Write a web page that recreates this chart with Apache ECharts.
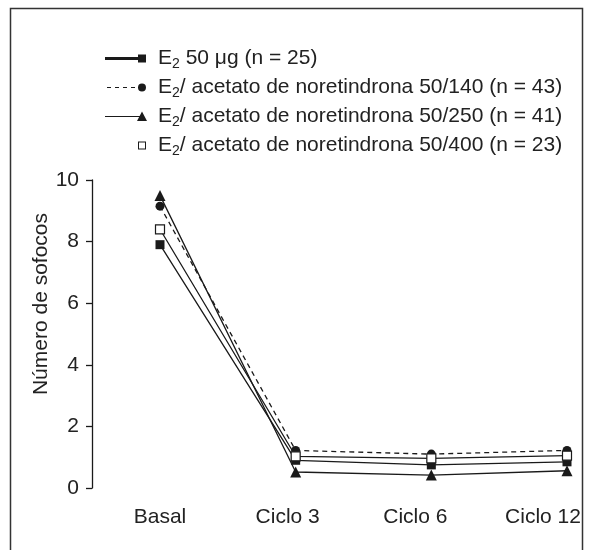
<!DOCTYPE html>
<html>
<head>
<meta charset="utf-8">
<script src="https://cdn.jsdelivr.net/npm/echarts@6/dist/echarts.min.js"></script>
<style>
html, body { margin: 0; padding: 0; background: #fff; }
#chart { width: 590px; height: 550px; }
</style>
</head>
<body>
<div id="chart"></div>
<script>
var categories = ['Basal', 'Ciclo 3', 'Ciclo 6', 'Ciclo 12']
var seriesNames = [
  'E2 50 μg (n = 25)',
  'E2/ acetato de noretindrona 50/140 (n = 43)',
  'E2/ acetato de noretindrona 50/250 (n = 41)',
  'E2/ acetato de noretindrona 50/400 (n = 23)'
]
var e2Only = [7.9, 0.9, 0.75, 0.85]
var nor140 = [9.15, 1.22, 1.1, 1.22]
var nor250 = [9.5, 0.52, 0.42, 0.56]
var nor400 = [8.4, 1.03, 0.96, 1.05]
var yTicks = [0, 2, 4, 6, 8, 10]

var ink = '#1a1a1a'
// legend icons: 53 x 12 box, tiny corner strokes keep the box size
var box = 'M0 0 L0 0.01 M53 12 L53 11.99 '
var icons = [
  box + 'M5 4.5 L40 4.5 L40 7.5 L5 7.5 Z M38 2 L46 2 L46 10 L38 10 Z',
  box + 'M7 5.5 L11 5.5 L11 6.5 L7 6.5 Z M15 5.5 L19 5.5 L19 6.5 L15 6.5 Z M23 5.5 L27 5.5 L27 6.5 L23 6.5 Z M31 5.5 L35 5.5 L35 6.5 L31 6.5 Z ' +
    'M42 2 A4 4 0 1 1 41.99 2 Z',
  box + 'M5 5.5 L40 5.5 L40 6.5 L5 6.5 Z M42 1 L47 10.5 L37 10.5 Z',
  box + 'M38 2 L46 2 L46 10 L38 10 Z M39 3 L39 9 L45 9 L45 3 Z'
]

var chart = echarts.init(document.getElementById('chart'))
chart.setOption({
  animation: false,
  textStyle: { fontFamily: 'Liberation Sans, Arial, sans-serif' },
  graphic: [{
    type: 'rect',
    shape: { x: 10.5, y: 8.5, width: 572, height: 580 },
    style: { fill: 'none', stroke: '#333', lineWidth: 1.5 },
    silent: true
  }],
  legend: {
    orient: 'vertical',
    left: 100,
    top: 46,
    padding: 0,
    itemWidth: 53,
    itemHeight: 12,
    itemGap: 4,
    selectedMode: false,
    itemStyle: { color: ink, borderWidth: 0 },
    data: seriesNames.map(function (n, i) {
      return { name: n, icon: 'path://' + icons[i] }
    }),
    formatter: function (name) {
      return '{t|E}{s|2}{t|' + name.slice(2) + '}'
    },
    textStyle: {
      rich: {
        t: { fontSize: 21, color: '#222', lineHeight: 24 },
        s: { fontSize: 14, color: '#222', lineHeight: 24, padding: [11, 0, 0, 0] }
      }
    }
  },
  grid: [{
    left: 160,
    right: 23,
    top: 180,
    bottom: 62
  },
  {
    // label row only: the printed labels sit a bit left of the points
    left: 160,
    right: 47,
    top: 180,
    bottom: 62
  }],
  xAxis: [{
    type: 'category',
    boundaryGap: false,
    data: categories,
    axisLine: { show: false },
    axisTick: { show: false },
    axisLabel: { show: false }
  },
  {
    type: 'category',
    gridIndex: 1,
    boundaryGap: false,
    data: categories,
    axisLine: { show: false },
    axisTick: { show: false },
    axisLabel: { color: '#222', fontSize: 21, margin: 19 }
  }],
  yAxis: [{
    type: 'value',
    min: 0,
    max: 10,
    interval: 2,
    offset: 68,
    name: 'Número de sofocos',
    nameLocation: 'middle',
    nameRotate: 90,
    nameGap: 40,
    nameMoveOverlap: false,
    nameTextStyle: { color: '#222', fontSize: 21, padding: [0, 0, 0, 60] },
    axisLine: { show: true, lineStyle: { color: ink, width: 1.3 } },
    axisTick: { show: true, length: 6, lineStyle: { color: ink, width: 1.3 } },
    axisLabel: {
      color: '#222',
      fontSize: 21,
      margin: 13,
      formatter: function (v) { return yTicks.indexOf(v) >= 0 ? String(v) : '' }
    },
    splitLine: { show: false }
  },
  {
    type: 'value',
    gridIndex: 1,
    show: false
  }],
  series: [{
    name: seriesNames[0],
    type: 'line',
    data: e2Only,
    symbol: 'rect',
    symbolSize: 9,
    lineStyle: { color: ink, width: 1.3 },
    itemStyle: { color: ink }
  },
  {
    name: seriesNames[1],
    type: 'line',
    data: nor140,
    symbol: 'circle',
    symbolSize: 9,
    lineStyle: { color: ink, width: 1.3, type: [5, 4] },
    itemStyle: { color: ink }
  },
  {
    name: seriesNames[2],
    type: 'line',
    data: nor250,
    symbol: 'triangle',
    symbolSize: 11,
    lineStyle: { color: ink, width: 1.3 },
    itemStyle: { color: ink }
  },
  {
    name: seriesNames[3],
    type: 'line',
    data: nor400,
    symbol: 'rect',
    symbolSize: 9,
    lineStyle: { color: ink, width: 1.3 },
    itemStyle: { color: '#fff', borderColor: ink, borderWidth: 1.2 }
  }
  ]
})
</script>
</body>
</html>
